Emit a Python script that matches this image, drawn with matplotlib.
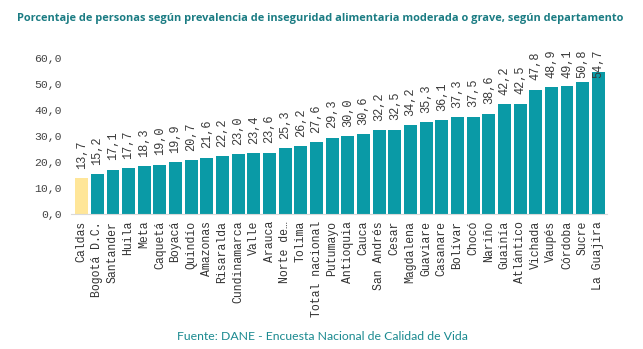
import matplotlib
matplotlib.use("Agg")
import matplotlib.pyplot as plt
from matplotlib.ticker import FuncFormatter

departamentos = ["Caldas", "Bogotá D.C.", "Santander", "Huila", "Meta", "Caquetá", "Boyacá",
                 "Quindío", "Amazonas", "Risaralda", "Cundinamarca", "Valle", "Arauca",
                 "Norte de…", "Tolima", "Total nacional", "Putumayo", "Antioquia", "Cauca",
                 "San Andrés", "Cesar", "Magdalena", "Guaviare", "Casanare", "Bolívar",
                 "Chocó", "Nariño", "Guainía", "Atlántico", "Vichada", "Vaupés", "Córdoba",
                 "Sucre", "La Guajira"]
valores = [13.7, 15.2, 17.1, 17.7, 18.3, 19.0, 19.9, 20.7, 21.6, 22.2, 23.0, 23.4, 23.6,
           25.3, 26.2, 27.6, 29.3, 30.0, 30.6, 32.2, 32.5, 34.2, 35.3, 36.1, 37.3, 37.5,
           38.6, 42.2, 42.5, 47.8, 48.9, 49.1, 50.8, 54.7]
y_ticks = [0, 10, 20, 30, 40, 50, 60]

teal = "#0a9aa6"
yellow = "#ffe699"
colors = [yellow if d == "Caldas" else teal for d in departamentos]

mono = ["Liberation Mono", "DejaVu Sans Mono"]

fig = plt.figure(figsize=(6.43, 3.49), dpi=100)
ax = fig.add_axes([73/643, 1 - 214/349, (607-73)/643, (214-58)/349])

x = list(range(len(departamentos)))
ax.bar(x, valores, width=0.82, color=colors)
ax.set_xlim(-0.55, len(departamentos) - 0.45)
ax.set_ylim(0, 60)
ax.set_yticks(y_ticks)
ax.yaxis.set_major_formatter(FuncFormatter(lambda v, p: f"{v:.1f}".replace(".", ",")))
ax.set_xticks(x)
ax.set_xticklabels(departamentos, rotation=90, fontfamily=mono, fontsize=8.3, color="#333333")
for lab in ax.get_yticklabels():
    lab.set_fontfamily(mono)
    lab.set_fontsize(8.2)
    lab.set_color("#444444")
ax.tick_params(axis="both", length=0)
ax.tick_params(axis="y", pad=8)
ax.tick_params(axis="x", pad=5)
for s in ["top", "right", "left"]:
    ax.spines[s].set_visible(False)
ax.spines["bottom"].set_color("#d9d9d9")
ax.spines["bottom"].set_bounds(-0.65, len(departamentos) - 0.45)

for xi, v in zip(x, valores):
    ax.text(xi, min(v + 3.6, 52.4), f"{v:.1f}".replace(".", ","),
            rotation=90, ha="center", va="bottom", fontfamily=mono, fontsize=8.6,
            color="#3a3a3a", clip_on=False)

fig.text(17/643, 1 - 18/349, "Porcentaje de personas según prevalencia de inseguridad alimentaria moderada o grave, según departamento",
         ha="left", va="center", fontsize=7.9, fontweight="bold", color="#1b7c83",
         fontfamily=["Open Sans", "DejaVu Sans"])
fig.text(322/643, 1 - 336/349, "Fuente: DANE - Encuesta Nacional de Calidad de Vida",
         ha="center", va="center", fontsize=8.8, color="#1b8a90",
         fontfamily=["Lato", "DejaVu Sans"])

fig.savefig("out.png", dpi=100)
